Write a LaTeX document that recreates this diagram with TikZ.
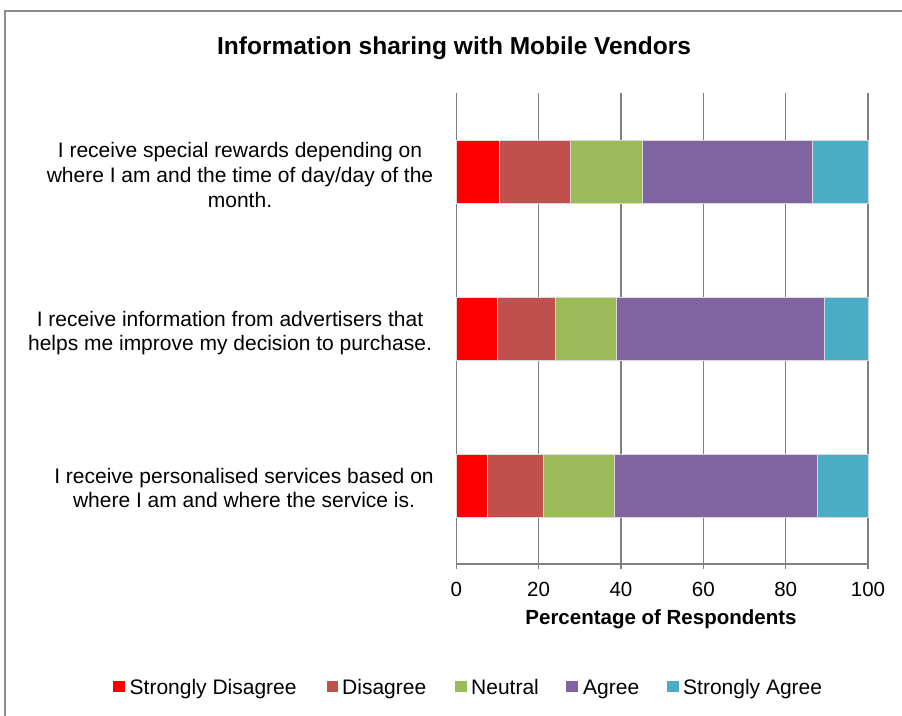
\documentclass[tikz,border=0pt]{standalone}
\usepackage{fontspec}
\setmainfont{Liberation Sans}
\definecolor{cSD}{HTML}{FF0000}
\definecolor{cD}{HTML}{C0504D}
\definecolor{cN}{HTML}{9BBB59}
\definecolor{cA}{HTML}{8064A2}
\definecolor{cSA}{HTML}{4BACC6}
\definecolor{gridgray}{HTML}{808080}
\tikzset{
  frame/.style={draw=gridgray!90, line width=1.3pt},
  gridline/.style={draw=gridgray, line width=1.6pt},
  seg/.style={draw=white!85!black, line width=0.5pt},
  catlabel/.style={align=center, inner sep=0pt, font=\fontsize{21}{24.8}\selectfont},
  ticklabel/.style={inner sep=0pt, font=\fontsize{20.5}{24}\selectfont},
  legbox/.style={minimum size=11.5pt, inner sep=0pt},
  legtext/.style={anchor=base west, inner sep=0pt, font=\fontsize{21}{24}\selectfont},
}
\begin{document}
\begin{tikzpicture}[x=1pt, y=-1pt]
\useasboundingbox (0,0) rectangle (902,715);
% outer chart frame (runs off the right and bottom edges)
\begin{scope}
  \clip (0,0) rectangle (902,715);
  \draw[frame] (5,11) rectangle (930,740);
\end{scope}

% title
\node[inner sep=0pt, font=\bfseries\fontsize{24.5}{28}\selectfont] (title) at (454,48) {Information sharing with Mobile Vendors};

% vertical grid lines and horizontal axis
\foreach \v in {0,20,...,100} {
  \draw[gridline] ({456.3+4.117*\v},93) -- ({456.3+4.117*\v},569);
  \node[ticklabel] (tick\v) at ({456.3+4.117*\v},589) {\v};
}
\draw[gridline] (456.3,564) -- (868,564);

% stacked bars: cumulative boundaries, top y
\foreach \a/\b/\c/\d/\e/\yt in {0/10.4/27.6/45.2/86.4/140.5, 0/10.0/24.0/38.8/89.4/297.3, 0/7.5/21.1/38.3/87.6/454.5} {
  \path[seg, fill=cSD] ({456.3+4.117*\a},\yt) rectangle ({456.3+4.117*\b},\yt+63);
  \path[seg, fill=cD]  ({456.3+4.117*\b},\yt) rectangle ({456.3+4.117*\c},\yt+63);
  \path[seg, fill=cN]  ({456.3+4.117*\c},\yt) rectangle ({456.3+4.117*\d},\yt+63);
  \path[seg, fill=cA]  ({456.3+4.117*\d},\yt) rectangle ({456.3+4.117*\e},\yt+63);
  \path[seg, fill=cSA] ({456.3+4.117*\e},\yt) rectangle (868,\yt+63);
}

% category labels
\node[catlabel] (cat1) at (240,175) {I receive special rewards depending on\\where I am and the time of day/day of the\\month.};
\node[catlabel] (cat2) at (230,333) {I receive information from advertisers that\\helps me improve my decision to purchase.};
\node[catlabel] (cat3) at (244,488) {I receive personalised services based on\\where I am and where the service is.};

% axis title
\node[inner sep=0pt, font=\bfseries\fontsize{20.5}{24}\selectfont] (xtitle) at (661,619) {Percentage of Respondents};

% legend
\node[legbox, fill=cSD] (lk1) at (119,686.5) {};
\node[legtext] (lt1) at (129.5,694) {Strongly Disagree};
\node[legbox, fill=cD]  (lk2) at (332.5,686.5) {};
\node[legtext] (lt2) at (342,694) {Disagree};
\node[legbox, fill=cN]  (lk3) at (461,686.5) {};
\node[legtext] (lt3) at (471,694) {Neutral};
\node[legbox, fill=cA]  (lk4) at (572,686.5) {};
\node[legtext] (lt4) at (583,694) {Agree};
\node[legbox, fill=cSA] (lk5) at (673,686.5) {};
\node[legtext] (lt5) at (683,694) {Strongly Agree};
\end{tikzpicture}
\end{document}
